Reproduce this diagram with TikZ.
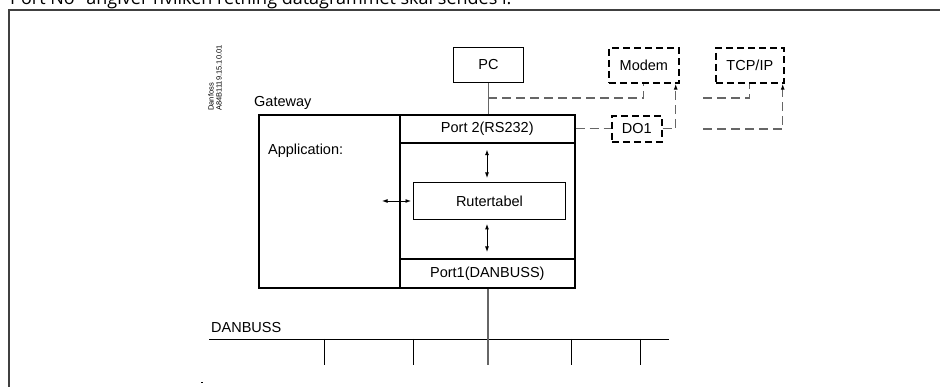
\documentclass[tikz,border=0pt]{standalone}
\usepackage{fontspec}
\setmainfont{Liberation Sans}
\newfontfamily\notefont{Open Sans}
\usetikzlibrary{arrows.meta,positioning}

\begin{document}
\begin{tikzpicture}[
  x=1pt,y=-1pt,
  font=\fontsize{14.5}{17}\selectfont,
  box/.style={draw,line width=0.9pt,inner sep=0pt,anchor=north west},
  gwcell/.style={draw,line width=1.6pt,inner sep=0pt,anchor=north west},
  dashbox/.style={draw,line width=1.7pt,dash pattern=on 7pt off 4pt,inner sep=0pt,anchor=north west},
  wire/.style={draw=black!60,line width=1.3pt},
  conn/.style={draw=black!60,line width=1.2pt,dash pattern=on 9pt off 5pt},
  upconn/.style={conn,-{Latex[length=6pt,width=4pt,black]}},
  dblarrow/.style={line width=0.9pt,{Latex[length=5.5pt,width=4pt]}-{Latex[length=5.5pt,width=4pt]}},
  busline/.style={draw,line width=0.9pt}
]
\useasboundingbox (0,0) rectangle (940,387);
\clip (0,0) rectangle (940,387);

% page text and frame
\node[anchor=base west,inner sep=0pt,font=\notefont\fontsize{18}{20}\selectfont] (note) at (10,5) {Port No" angiver hvilken retning datagrammet skal sendes i.};
\draw[draw=black!75,line width=2pt] (9,400) -- (9,10) -- (960,10);

% drawing number
\node[rotate=90,align=left,inner sep=0pt,font=\fontsize{7.5}{8}\selectfont] (dwgno) at (215,78) {Danfoss\\A84B1119.15.10.01};

% top row
\node[box,minimum width=70pt,minimum height=35pt] (pc) at (453,47) {PC};
\node[dashbox,minimum width=70pt,minimum height=35pt] (modem) at (608,47) {Modem};
\node[dashbox,minimum width=68pt,minimum height=35pt] (tcp) at (715,47) {TCP/IP};
\node[dashbox,minimum width=50pt,minimum height=26pt] (do1) at (611,115) {DO1};

% gateway
\node[gwcell,minimum width=316pt,minimum height=173pt] (gw) at (258,114) {};
\node[anchor=base west,inner sep=0pt] (gwlabel) at (254,107) {Gateway};
\node[anchor=base west,inner sep=0pt] (app) at (268,155) {Application:};
\node[gwcell,minimum width=175pt,minimum height=28pt] (port2) at (399,114) {Port 2(RS232)};
\node[gwcell,minimum width=175pt,minimum height=116pt] (mid) at (399,142) {};
\node[gwcell,minimum width=175pt,minimum height=29pt] (port1) at (399,258) {Port1(DANBUSS)};
\node[box,minimum width=152pt,minimum height=37pt] (rt) at (413,182) {Rutertabel};

% arrows inside gateway
\coordinate (append) at (382,201);
\draw[dblarrow,shorten <=6pt,shorten >=4pt] (port2.south -| 487,0) -- (rt.north -| 487,0);
\draw[dblarrow,shorten <=4pt,shorten >=6pt] (rt.south -| 487,0) -- (port1.north -| 487,0);
\draw[dblarrow,shorten >=2pt] (append) -- (rt.west |- append);

% connections to PC, modem, TCP/IP
\coordinate (pctap) at (488,98);
\coordinate (tcptop) at (703,98);
\coordinate (tcpbot) at (703,129);
\draw[wire] (pc.south) -- (pc.south |- port2.north);
\draw[conn] (pctap) -| (modem.south);
\draw[conn] (port2.east |- do1.west) -- (do1.west);
\draw[upconn] (do1.east) -| ([xshift=-4pt]modem.south east);
\draw[conn] (tcptop) -| (tcp.south);
\draw[upconn] (tcpbot) -| ([xshift=-2pt]tcp.south east);

% DANBUSS
\coordinate (busL) at (209,339);
\coordinate (busR) at (669,339);
\coordinate (p1end) at (488,365);
\node[anchor=base west,inner sep=0pt] (buslabel) at (211,333) {DANBUSS};
\draw[busline] (busL) -- (busR);
\draw[wire] (port1.south -| p1end) -- (p1end);
\foreach \x in {324,413,571,640}
  \draw[busline] (\x,339) -- (\x,365);
\draw[line width=0.8pt] (201,382) -- (203,382);
\end{tikzpicture}
\end{document}
